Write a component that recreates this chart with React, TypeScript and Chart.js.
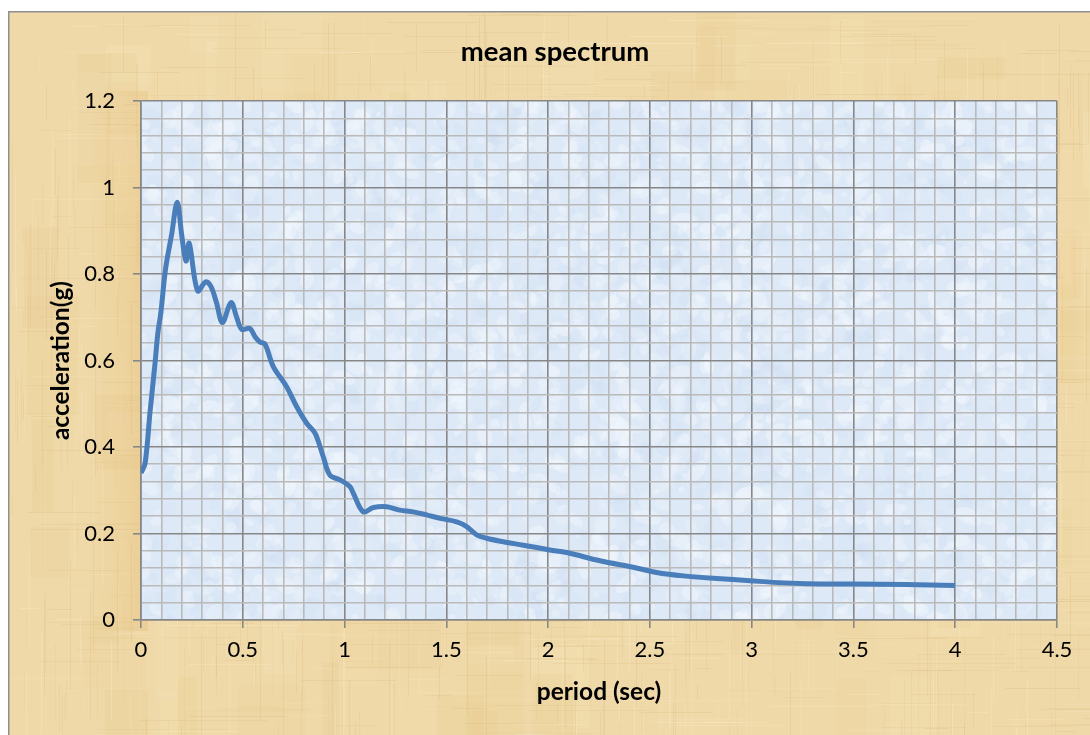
import React, { useEffect, useRef } from "react";
import { Chart, registerables } from "chart.js";

Chart.register(...registerables);

// Mean response spectrum: period (s) vs spectral acceleration (g)
const periods = [
  0, 0.02, 0.044, 0.069, 0.082, 0.098, 0.121, 0.15, 0.178, 0.2, 0.221, 0.237,
  0.278, 0.318, 0.344, 0.37, 0.4, 0.442, 0.47, 0.495, 0.535, 0.56, 0.584, 0.609,
  0.65, 0.716, 0.765, 0.814, 0.855, 0.895, 0.928, 0.977, 1.027, 1.043, 1.092,
  1.141, 1.207, 1.272, 1.337, 1.403, 1.469, 1.551, 1.6, 1.649, 1.698, 1.78,
  1.878, 2.009, 2.091, 2.254, 2.418, 2.533, 2.664, 2.828, 2.991, 3.106, 3.27,
  3.5, 3.76, 4.0,
];
const meanAccel = [
  0.34, 0.362, 0.479, 0.594, 0.66, 0.713, 0.813, 0.89, 0.966, 0.89, 0.83, 0.871,
  0.761, 0.782, 0.771, 0.735, 0.688, 0.734, 0.7, 0.672, 0.674, 0.655, 0.643, 0.638,
  0.586, 0.539, 0.493, 0.455, 0.432, 0.378, 0.335, 0.324, 0.308, 0.293, 0.25,
  0.26, 0.262, 0.254, 0.25, 0.243, 0.235, 0.227, 0.216, 0.197, 0.189, 0.181,
  0.173, 0.162, 0.156, 0.137, 0.122, 0.11, 0.102, 0.096, 0.091, 0.087, 0.084,
  0.083, 0.082, 0.08,
];

// Labelled (major) ticks
const xMajorTicks = [0, 0.5, 1, 1.5, 2, 2.5, 3, 3.5, 4, 4.5];
const yMajorTicks = [0, 0.2, 0.4, 0.6, 0.8, 1, 1.2];
// Minor grid spacing
const xMinorStep = 0.1;
const yMinorStep = 0.04;

const chartTitle = "mean spectrum";
const xAxisTitle = "period (sec)";
const yAxisTitle = "acceleration(g)";

const CANVAS_W = 1094;
const CANVAS_H = 724;
const FONT = "Lato, 'Open Sans', sans-serif";

const MAJOR_GRID = "#878787";
const MINOR_GRID = "#bababa";

function prng(seed: number) {
  return () => {
    seed = (seed + 0x6d2b79f5) | 0;
    let t = Math.imul(seed ^ (seed >>> 15), 1 | seed);
    t = (t + Math.imul(t ^ (t >>> 7), 61 | t)) ^ t;
    return ((t ^ (t >>> 14)) >>> 0) / 4294967296;
  };
}

// Papyrus-like paper texture for the chart background
function makeParchment(w: number, h: number) {
  const c = document.createElement("canvas");
  c.width = w;
  c.height = h;
  const g = c.getContext("2d")!;
  g.fillStyle = "#efd9a8";
  g.fillRect(0, 0, w, h);
  const rnd = prng(11);
  for (let i = 0; i < 160; i++) {
    const x = rnd() * w, y = rnd() * h;
    const bw = 10 + rnd() * 60, bh = 20 + rnd() * 120;
    g.fillStyle = rnd() < 0.5
      ? `rgba(226,190,125,${0.05 + rnd() * 0.1})`
      : `rgba(250,236,198,${0.05 + rnd() * 0.12})`;
    g.fillRect(x, y, bw, bh);
  }
  g.lineWidth = 1;
  for (let i = 0; i < 1600; i++) {
    const horizontal = rnd() < 0.5;
    const x = rnd() * w, y = rnd() * h;
    const len = 15 + rnd() * 120;
    g.strokeStyle = rnd() < 0.6
      ? `rgba(205,165,100,${0.06 + rnd() * 0.12})`
      : `rgba(255,244,215,${0.08 + rnd() * 0.18})`;
    g.beginPath();
    if (horizontal) {
      g.moveTo(x, Math.round(y) + 0.5);
      g.lineTo(x + len, Math.round(y) + 0.5);
    } else {
      g.moveTo(Math.round(x) + 0.5, y);
      g.lineTo(Math.round(x) + 0.5, y + len);
    }
    g.stroke();
  }
  // warmer band to the left of the plot
  const grad = g.createLinearGradient(80, 0, 140, 0);
  grad.addColorStop(0, "rgba(228,186,115,0)");
  grad.addColorStop(1, "rgba(228,186,115,0.35)");
  g.fillStyle = grad;
  g.fillRect(80, 80, 60, 540);
  return c;
}

// Mottled light-blue fill for the plot area
function makePlotFill(w: number, h: number) {
  const c = document.createElement("canvas");
  c.width = w;
  c.height = h;
  const g = c.getContext("2d")!;
  g.fillStyle = "#dde9f7";
  g.fillRect(0, 0, w, h);
  const rnd = prng(5);
  for (let i = 0; i < 3000; i++) {
    const x = rnd() * w, y = rnd() * h;
    const r = 2 + rnd() * 6;
    g.fillStyle = rnd() < 0.6
      ? `rgba(242,247,253,${0.2 + rnd() * 0.3})`
      : `rgba(205,222,242,${0.1 + rnd() * 0.18})`;
    g.beginPath();
    g.ellipse(x, y, r * (1 + rnd()), r, rnd() * Math.PI, 0, Math.PI * 2);
    g.fill();
  }
  return c;
}

const near = (v: number, list: number[]) => list.some((m) => Math.abs(m - v) < 1e-6);
const fmt = (v: number) => String(Math.round(v * 10) / 10);

export default function App() {
  const ref = useRef<HTMLCanvasElement>(null);

  useEffect(() => {
    const canvas = ref.current;
    if (!canvas) return;
    const parchment = makeParchment(CANVAS_W, CANVAS_H);
    let plotFill: HTMLCanvasElement | null = null;

    const backgroundPlugin = {
      id: "texturedBackground",
      beforeDraw(chart: Chart) {
        const { ctx, chartArea } = chart;
        ctx.save();
        ctx.drawImage(parchment, 0, 0);
        const w = Math.round(chartArea.right - chartArea.left);
        const h = Math.round(chartArea.bottom - chartArea.top);
        if (!plotFill || plotFill.width !== w || plotFill.height !== h) {
          plotFill = makePlotFill(w, h);
        }
        ctx.drawImage(plotFill, chartArea.left, chartArea.top);
        ctx.strokeStyle = "#8f8f8f";
        ctx.lineWidth = 1.5;
        ctx.strokeRect(0.75, 0.75, CANVAS_W, CANVAS_H);
        ctx.restore();
      },
    };

    // Chart title centred on the whole chart frame
    const titlePlugin = {
      id: "frameTitle",
      afterDraw(chart: Chart) {
        const { ctx } = chart;
        ctx.save();
        ctx.font = `bold 27.5px ${FONT}`;
        ctx.fillStyle = "#000";
        ctx.textAlign = "center";
        ctx.textBaseline = "middle";
        ctx.fillText(chartTitle, CANVAS_W / 2, 41);
        ctx.restore();
      },
    };

    const xGrid: number[] = [];
    for (let i = 0; i <= Math.round(4.5 / xMinorStep); i++) xGrid.push(+(i * xMinorStep).toFixed(2));
    const yGrid: number[] = [];
    for (let i = 0; i <= Math.round(1.2 / yMinorStep); i++) yGrid.push(+(i * yMinorStep).toFixed(2));

    const chart = new Chart(canvas, {
      type: "scatter",
      data: {
        datasets: [
          {
            label: chartTitle,
            data: periods.map((p, i) => ({ x: p, y: meanAccel[i] })),
            showLine: true,
            borderColor: "#4a7ebb",
            backgroundColor: "#4a7ebb",
            borderWidth: 5,
            pointRadius: 0,
            pointHoverRadius: 0,
            tension: 0.35,
            fill: false,
          },
        ],
      },
      options: {
        responsive: false,
        animation: false,
        devicePixelRatio: 1,
        layout: { padding: { left: 0, right: CANVAS_W - 1049, top: 90, bottom: 0 } },
        plugins: {
          legend: { display: false },
          tooltip: { enabled: false },
          title: { display: false },
        },
        scales: {
          x: {
            type: "linear",
            min: 0,
            max: 4.5,
            afterBuildTicks: (scale: any) => {
              scale.ticks = xGrid.map((v) => ({ value: v }));
            },
            afterFit: (scale: any) => {
              scale.height = CANVAS_H - 609;
            },
            ticks: {
              autoSkip: false,
              maxRotation: 0,
              color: "#000",
              padding: 9,
              font: { family: FONT, size: 22 },
              callback: (v: any) => (near(Number(v), xMajorTicks) ? fmt(Number(v)) : ""),
            },
            grid: {
              color: (c: any) => (near(c.tick.value, xMajorTicks) ? MAJOR_GRID : MINOR_GRID),
              tickColor: (c: any) => (near(c.tick.value, xMajorTicks) ? MAJOR_GRID : "rgba(0,0,0,0)"),
              lineWidth: 1.6,
              tickLength: 8,
              drawTicks: true,
            },
            border: { display: true, color: MAJOR_GRID, width: 1.6 },
            title: {
              display: true,
              text: xAxisTitle,
              color: "#000",
              font: { family: FONT, size: 24.5, weight: "bold", lineHeight: 1.2 },
              padding: { top: 0, bottom: 28 },
            },
          },
          y: {
            type: "linear",
            min: 0,
            max: 1.2,
            afterBuildTicks: (scale: any) => {
              scale.ticks = yGrid.map((v) => ({ value: v }));
            },
            afterFit: (scale: any) => {
              scale.width = 133;
            },
            ticks: {
              autoSkip: false,
              color: "#000",
              padding: 18,
              font: { family: FONT, size: 22 },
              callback: (v: any) => (near(Number(v), yMajorTicks) ? fmt(Number(v)) : ""),
            },
            grid: {
              color: (c: any) => (near(c.tick.value, yMajorTicks) ? MAJOR_GRID : MINOR_GRID),
              tickColor: (c: any) => (near(c.tick.value, yMajorTicks) ? MAJOR_GRID : "rgba(0,0,0,0)"),
              lineWidth: 1.6,
              tickLength: 8,
              drawTicks: true,
            },
            border: { display: true, color: MAJOR_GRID, width: 1.6 },
            title: {
              display: true,
              text: yAxisTitle,
              color: "#000",
              font: { family: FONT, size: 24.5, weight: "bold", lineHeight: 1.2 },
              padding: { top: 38, bottom: 0 },
            },
          },
        },
      },
      plugins: [backgroundPlugin, titlePlugin],
    } as any);

    return () => chart.destroy();
  }, []);

  return (
    <div
      style={{
        position: "fixed",
        left: 8,
        top: 11,
        width: 1082,
        height: CANVAS_H,
        overflow: "hidden",
      }}
    >
      <canvas
        ref={ref}
        width={CANVAS_W}
        height={CANVAS_H}
        style={{ width: CANVAS_W, height: CANVAS_H, display: "block" }}
      />
    </div>
  );
}
